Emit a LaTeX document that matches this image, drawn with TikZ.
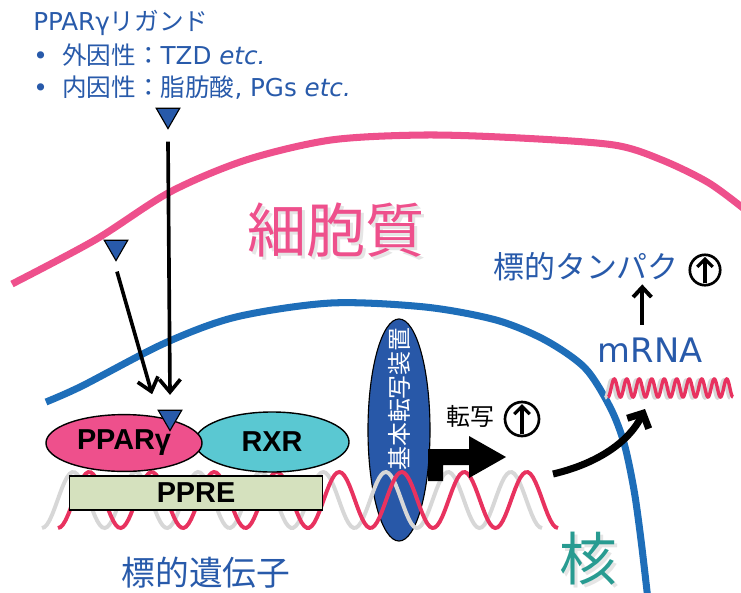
\documentclass[tikz,border=0pt]{standalone}
\usepackage{fontspec}
\setmainfont{DejaVu Sans}
\newfontfamily\jpfont{Noto Sans CJK JP}
\newfontfamily\boxfont{Liberation Sans}
\usepackage{xcolor}
\definecolor{LigandBlue}  {RGB}{40,  90,  170}
\definecolor{NucleusBlue} {RGB}{30,  110, 185}
\definecolor{MembranePink}{RGB}{238, 80,  140}
\definecolor{PparPink}    {RGB}{238, 80,  140}
\definecolor{RxrCyan}     {RGB}{90,  200, 210}
\definecolor{PpreGreen}   {RGB}{213, 225, 190}
\definecolor{GtfBlue}     {RGB}{40,  88,  168}
\definecolor{DnaPink}     {RGB}{232, 50,  95}
\definecolor{DnaGray}     {RGB}{215, 215, 215}
\definecolor{NucleusTeal} {RGB}{40,  155, 145}
\usetikzlibrary{
  shapes.geometric,
  arrows.meta,
  positioning
}

\begin{document}
\begin{tikzpicture}[
  x=0.025cm, y=-0.025cm,
  membrane/.style={line width=5pt},
  strand/.style={line width=2.8pt},
  rnastrand/.style={line width=2.4pt},
  ligand/.style={
    regular polygon, regular polygon sides=3, shape border rotate=180,
    draw=black, fill=LigandBlue, line width=0.8pt,
    minimum size=0.68cm, inner sep=0pt
  },
  ligarrow/.style={line width=2.6pt, -{Straight Barb[length=9pt, width=15pt]}},
  receptor/.style={
    ellipse, draw=black, line width=1pt, inner sep=0pt,
    font=\boxfont\bfseries\fontsize{20.5pt}{22pt}\selectfont
  },
  ligtext/.style={anchor=base west, inner sep=0pt, text=LigandBlue,
    font=\fontsize{17.5pt}{23.5pt}\selectfont},
  upmark/.style={circle, draw=black, line width=1.9pt, inner sep=0pt},
  uptip/.style={line width=2.2pt, -{Straight Barb[length=5.5pt, width=11pt]}}
]
\useasboundingbox (0,0) rectangle (741,592);

% 細胞膜と核膜
\draw[membrane, MembranePink] plot[smooth] coordinates
  {(12,284) (95,240) (170,192) (246,160) (331,140) (425,135) (520,138)
   (614,145) (662,160) (709,183) (748,212)};
\draw[membrane, NucleusBlue] plot[smooth] coordinates
  {(46,402) (82,386) (165,343) (236,317) (331,303) (425,307) (496,320)
   (545,340) (585,368) (610,407) (624,443) (634,490) (641,540) (648,600)};

% リガンド
\node[ligtext] (ligtitle) at (33,30) {PPARγ{\jpfont リガンド}};
\node[ligtext] (ligexo) at (33,64)
  {\makebox[20.6pt][l]{•}{\jpfont 外因性：}TZD \textit{etc.}};
\node[ligtext] (ligendo) at (33,96)
  {\makebox[20.6pt][l]{•}{\jpfont 内因性：脂肪酸}, PGs \textit{etc.}};

\node[ligand] (lig1) at (168,115) {};
\node[ligand] (lig2) at (116,247) {};

% 細胞質
\node[text=black!10, font=\jpfont\fontsize{42pt}{44pt}\selectfont] (cytoshadow) at (339,233) {細胞質};
\node[text=MembranePink, font=\jpfont\fontsize{42pt}{44pt}\selectfont] (cyto) at (336,230) {細胞質};

% 基本転写装置
\node[ellipse, draw=black, line width=0.8pt, fill=GtfBlue,
  minimum width=1.55cm, minimum height=5.55cm, inner sep=0pt] (gtf) at (399,430) {};
\node[rotate=90, text=white, font=\jpfont\fontsize{17pt}{18pt}\selectfont] (gtflabel) at (399,399) {基本転写装置};

% 標的遺伝子 (DNA)
\foreach \col/\xs/\xe in {DnaGray/42/542, DnaPink/58/558}
  \draw[strand, draw=\col] plot[domain=\xs:\xe, samples=200]
    (\x, {500+28*cos(5.76*(\x-\xs))});

\node[draw=black, line width=1pt, fill=PpreGreen, minimum width=6.33cm, minimum height=0.85cm,
  inner sep=0pt, font=\boxfont\bfseries\fontsize{20.5pt}{22pt}\selectfont] (ppre) at (196,493) {PPRE};
\node[receptor, fill=RxrCyan, minimum width=3.85cm, minimum height=1.5cm] (rxr) at (272,442) {RXR};
\node[receptor, fill=PparPink, minimum width=3.9cm, minimum height=1.42cm] (ppar) at (124,443) {PPARγ};
\node[ligand] (ligb) at (170,417) {};

\draw[ligarrow] ([yshift=-8.5pt]lig1.south) -- ([yshift=10.5pt]ligb.north);
\draw[ligarrow] ([xshift=0.7pt, yshift=-7pt]lig2.south) -- ([xshift=20pt, yshift=14pt]ppar.north);

\node[text=LigandBlue, font=\jpfont\fontsize{24pt}{26pt}\selectfont] (gene) at (206,573) {標的遺伝子};

% 転写
\fill[black] (428,481) -- (428,449) -- (469,449) -- (469,436) -- (506,457)
  -- (469,478) -- (469,465) -- (443,465) -- (443,481) -- cycle;
\node[font=\jpfont\fontsize{17pt}{18pt}\selectfont] (txlabel) at (470,416) {転写};
\node[upmark, minimum size=0.85cm] (up1) at (522,419) {};

% mRNA
\draw[rnastrand, draw=DnaGray] plot[domain=605:730, samples=300]
  (\x, {389+9*cos(28.8*(\x-605))});
\draw[rnastrand, draw=DnaPink] plot[domain=608:733, samples=300]
  (\x, {388+9*cos(28.8*(\x-608))});
\node[inner sep=0pt, text=LigandBlue, font=\fontsize{24pt}{26pt}\selectfont] (mrna) at (650,350) {mRNA};

\coordinate (txend) at (553,474);
\coordinate (rnain) at (645,409);
\draw[line width=5pt, -{Straight Barb[length=8pt, width=17pt]}]
  (txend) .. controls (600,463) and (630,440) .. (rnain);

% 標的タンパク
\node[inner sep=0pt, text=LigandBlue, font=\jpfont\fontsize{22pt}{24pt}\selectfont] (prot) at (586,267) {標的タンパク};
\node[upmark, minimum size=0.76cm] (up2) at (705,270) {};
\draw[line width=2.8pt, -{Straight Barb[length=7pt, width=13pt]}]
  ([xshift=-5.5pt, yshift=9pt]mrna.north) -- ([xshift=-5.5pt, yshift=-2pt]mrna.north |- prot.south);

\foreach \c in {up1, up2}
  \draw[uptip] ([yshift=2.5pt]\c.south) -- ([yshift=-2.5pt]\c.north);

% 核
\node[text=black!10, font=\jpfont\fontsize{41pt}{43pt}\selectfont] (nucshadow) at (591,562) {核};
\node[text=NucleusTeal, font=\jpfont\fontsize{41pt}{43pt}\selectfont] (nuc) at (588,559) {核};
\end{tikzpicture}
\end{document}
